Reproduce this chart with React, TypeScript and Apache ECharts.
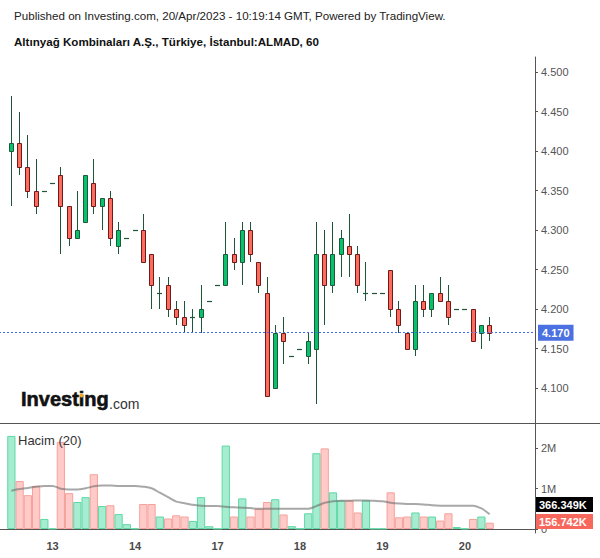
import React, { useEffect, useRef } from 'react';
import * as echarts from 'echarts';

const days = ['12', '13', '14', '17', '18', '19', '20'];
const fullSession = ['09:00', '10:00', '11:00', '12:00', '13:00', '14:00', '15:00', '16:00', '17:00', '18:00'];
const dayHours = [
  ['14:00', '15:00', '16:00', '17:00', '18:00'],
  fullSession,
  fullSession,
  fullSession,
  fullSession,
  fullSession,
  ['09:00', '10:00', '11:00', '12:00'],
];

const opens = [
  4.40, 4.41, 4.38, 4.35, 4.35, 4.36, 4.37, 4.33, 4.29, 4.31,
  4.36, 4.33, 4.34, 4.28, 4.29, 4.30, 4.30, 4.27, 4.22, 4.23,
  4.20, 4.19, 4.19, 4.19, 4.21, 4.23, 4.23, 4.27, 4.26, 4.30,
  4.26, 4.22, 4.10, 4.17, 4.14, 4.15, 4.14, 4.15, 4.27, 4.23,
  4.27, 4.28, 4.27, 4.22, 4.22, 4.22, 4.25, 4.20, 4.17, 4.15,
  4.21, 4.20, 4.22, 4.21, 4.20, 4.20, 4.20, 4.17, 4.18,
];
const closes = [
  4.41, 4.38, 4.35, 4.33, 4.35, 4.36, 4.33, 4.29, 4.30, 4.37,
  4.33, 4.34, 4.29, 4.30, 4.29, 4.30, 4.26, 4.23, 4.22, 4.20,
  4.19, 4.18, 4.19, 4.20, 4.21, 4.23, 4.27, 4.26, 4.30, 4.27,
  4.23, 4.09, 4.17, 4.16, 4.14, 4.15, 4.16, 4.27, 4.23, 4.27,
  4.29, 4.27, 4.23, 4.22, 4.22, 4.22, 4.20, 4.18, 4.15, 4.21,
  4.20, 4.22, 4.21, 4.19, 4.20, 4.20, 4.16, 4.18, 4.17,
];
const lows = [
  4.33, 4.37, 4.34, 4.32, 4.35, 4.36, 4.27, 4.28, 4.29, 4.31,
  4.32, 4.30, 4.28, 4.27, 4.29, 4.30, 4.26, 4.20, 4.20, 4.19,
  4.18, 4.17, 4.17, 4.17, 4.21, 4.23, 4.23, 4.25, 4.23, 4.26,
  4.22, 4.09, 4.10, 4.13, 4.14, 4.15, 4.13, 4.08, 4.18, 4.22,
  4.24, 4.24, 4.22, 4.21, 4.22, 4.22, 4.19, 4.17, 4.15, 4.14,
  4.19, 4.19, 4.21, 4.18, 4.20, 4.20, 4.16, 4.15, 4.16,
];
const highs = [
  4.47, 4.45, 4.42, 4.39, 4.35, 4.36, 4.38, 4.33, 4.35, 4.37,
  4.39, 4.34, 4.35, 4.31, 4.29, 4.30, 4.32, 4.27, 4.24, 4.24,
  4.21, 4.21, 4.20, 4.23, 4.21, 4.23, 4.31, 4.29, 4.31, 4.31,
  4.26, 4.24, 4.18, 4.19, 4.14, 4.15, 4.17, 4.31, 4.30, 4.31,
  4.30, 4.32, 4.28, 4.26, 4.22, 4.22, 4.25, 4.21, 4.17, 4.23,
  4.23, 4.22, 4.24, 4.23, 4.20, 4.20, 4.20, 4.18, 4.19,
];
// volume in millions of shares
const volumesM = [
  2.31, 1.19, 0.84, 1.07, 0.25, 0.01, 2.16, 0.89, 0.67, 0.79,
  1.36, 0.57, 0.59, 0.37, 0.12, 0.01, 0.62, 0.62, 0.31, 0.26,
  0.34, 0.31, 0.20, 0.79, 0.07, 0.01, 2.07, 0.31, 0.76, 0.31,
  0.50, 0.67, 0.74, 0.36, 0.07, 0.01, 0.39, 1.88, 2.00, 0.91,
  0.71, 0.71, 0.41, 0.71, 0.01, 0.01, 0.91, 0.29, 0.31, 0.41,
  0.31, 0.31, 0.21, 0.39, 0.05, 0.01, 0.25, 0.31, 0.156742,
];
// 20-period volume average as drawn (millions)
const volumeMA = [
  0.95, 0.99, 1.02, 1.05, 1.07, 1.07, 1.00, 0.98, 0.98, 1.01,
  1.06, 1.08, 1.08, 1.07, 1.07, 1.07, 1.05, 1.01, 0.90, 0.79,
  0.68, 0.64, 0.60, 0.58, 0.57, 0.57, 0.55, 0.54, 0.53, 0.52,
  0.50, 0.50, 0.50, 0.50, 0.50, 0.50, 0.50, 0.57, 0.65, 0.69,
  0.70, 0.70, 0.71, 0.71, 0.70, 0.69, 0.65, 0.63, 0.62, 0.62,
  0.61, 0.59, 0.58, 0.58, 0.58, 0.58, 0.58, 0.51, 0.366349,
];
const priceTicks = [4.1, 4.15, 4.2, 4.25, 4.3, 4.35, 4.4, 4.45, 4.5];
const volumeTicks = [0, 1, 2];

const titleLine1 = 'Published on Investing.com, 20/Apr/2023 - 10:19:14 GMT, Powered by TradingView.';
const titleLine2 = 'Altınyağ Kombinaları A.Ş., Türkiye, İstanbul:ALMAD, 60';
const volumeLabel = 'Hacim (20)';

const FONT = '"Liberation Sans", Arial, sans-serif';

export default function App() {
  const ref = useRef<HTMLDivElement>(null);

  useEffect(() => {
    const chart = echarts.init(ref.current as HTMLDivElement, null, { renderer: 'svg' });

    const categories: string[] = ['pad-start'];
    const dayStarts = new Set<string>();
    days.forEach((d, di) => {
      dayHours[di].forEach((h, hi) => {
        const key = d + ' ' + h;
        if (hi === 0 && di > 0) dayStarts.add(key);
        categories.push(key);
      });
    });
    for (let k = 1; k <= 5; k++) categories.push('pad-end-' + k);

    const candleData = opens.map((o, i) => [i + 1, o, closes[i], lows[i], highs[i]]);
    const lastPrice = closes[closes.length - 1];

    const upFill = '#07c16c';
    const upBorder = '#1d5a39';
    const downFill = '#fd6a5e';
    const downBorder = '#6e1b17';
    const wick = '#1f5538';

    const volData = volumesM.map((v, i) => {
      const up = closes[i] >= opens[i];
      return {
        value: [i + 1, v],
        itemStyle: {
          color: up ? '#a6ecd0' : '#ffcac7',
          borderColor: up ? '#5ed8a5' : '#f5a29c',
          borderWidth: 1,
        },
      };
    });
    const maData = volumeMA.map((v, i) => [i + 1, v]);

    const axisGray = '#555555';

    const option: any = {
      animation: false,
      backgroundColor: '#ffffff',
      textStyle: { fontFamily: FONT },
      grid: [
        { left: -1, width: 536, top: 57, height: 366, outerBoundsMode: 'none', containLabel: false },
        { left: -1, width: 536, top: 423, height: 110, outerBoundsMode: 'none', containLabel: false },
      ],
      xAxis: [
        {
          type: 'category',
          gridIndex: 0,
          data: categories,
          boundaryGap: true,
          axisLine: { show: false },
          axisTick: { show: false },
          axisLabel: { show: false },
          splitLine: { show: false },
        },
        {
          type: 'category',
          gridIndex: 1,
          data: categories,
          boundaryGap: true,
          axisLine: { show: true, lineStyle: { color: axisGray, width: 1 } },
          axisTick: { show: false },
          axisLabel: {
            show: true,
            interval: (_idx: number, value: string) => dayStarts.has(value),
            formatter: (value: string) => value.split(' ')[0],
            color: '#4a4a4a',
            fontSize: 11,
            fontWeight: 'bold',
            margin: 7,
          },
          splitLine: { show: false },
        },
      ],
      yAxis: [
        {
          type: 'value',
          gridIndex: 0,
          position: 'right',
          min: 4.0557,
          max: 4.519,
          axisLine: { show: true, lineStyle: { color: axisGray, width: 1 } },
          axisTick: { show: true, length: 3, customValues: priceTicks, lineStyle: { color: axisGray } },
          axisLabel: {
            customValues: priceTicks,
            formatter: (v: number) => v.toFixed(3),
            color: '#555555',
            fontSize: 11,
            margin: 6,
          },
          splitLine: { show: false },
        },
        {
          type: 'value',
          gridIndex: 1,
          position: 'right',
          min: -0.099,
          max: 2.63,
          axisLine: { show: true, lineStyle: { color: axisGray, width: 1 } },
          axisTick: { show: true, length: 3, customValues: volumeTicks, lineStyle: { color: axisGray } },
          axisLabel: {
            customValues: volumeTicks,
            formatter: (v: number) => (v === 0 ? '0' : v + 'M'),
            color: '#555555',
            fontSize: 11,
            margin: 6,
          },
          splitLine: { show: false },
        },
      ],
      series: [
        {
          type: 'custom',
          name: 'ALMAD',
          xAxisIndex: 0,
          yAxisIndex: 0,
          data: candleData,
          encode: { x: 0, y: [1, 2, 3, 4] },
          clip: false,
          renderItem: (_params: any, api: any) => {
            const xi = api.value(0);
            const o = api.value(1);
            const c = api.value(2);
            const lo = api.value(3);
            const hi = api.value(4);
            const po = api.coord([xi, o]);
            const pc = api.coord([xi, c]);
            const pl = api.coord([xi, lo]);
            const ph = api.coord([xi, hi]);
            const xc = Math.floor(po[0]) + 0.5;
            const up = c >= o;
            const children: any[] = [];
            if (hi > lo) {
              children.push({
                type: 'line',
                shape: { x1: xc, y1: Math.round(ph[1]), x2: xc, y2: Math.round(pl[1]) },
                style: { stroke: wick, lineWidth: 1 },
              });
            }
            const top = Math.round(Math.min(po[1], pc[1])) + 0.5;
            const bot = Math.round(Math.max(po[1], pc[1])) + 0.5;
            if (bot - top < 1) {
              children.push({
                type: 'line',
                shape: { x1: xc - 2.5, y1: top, x2: xc + 2.5, y2: top },
                style: { stroke: wick, lineWidth: 1.2 },
              });
            } else {
              children.push({
                type: 'rect',
                shape: { x: xc - 2, y: top, width: 4, height: bot - top },
                style: {
                  fill: up ? upFill : downFill,
                  stroke: up ? upBorder : downBorder,
                  lineWidth: 1,
                },
              });
            }
            return { type: 'group', children };
          },
          markLine: {
            silent: true,
            symbol: 'none',
            data: [{ yAxis: lastPrice }],
            lineStyle: { color: '#3f6ef0', type: [2, 2], width: 1 },
            label: {
              show: true,
              position: 'end',
              distance: 3,
              formatter: (p: any) => Number(p.value).toFixed(3),
              backgroundColor: '#4b70e2',
              color: '#ffffff',
              fontWeight: 'bold',
              fontSize: 11,
              fontFamily: FONT,
              padding: [2, 4, 2, 4],
              lineHeight: 12,
            },
          },
          z: 3,
        },
        {
          type: 'bar',
          name: 'Hacim',
          xAxisIndex: 1,
          yAxisIndex: 1,
          data: volData,
          barWidth: '100%',
          barCategoryGap: '0%',
          z: 2,
        },
        {
          type: 'line',
          name: 'MA20',
          xAxisIndex: 1,
          yAxisIndex: 1,
          data: maData,
          showSymbol: false,
          smooth: 0.3,
          lineStyle: { color: 'rgba(110,110,110,0.6)', width: 2 },
          z: 4,
        },
      ],
      graphic: [
        {
          type: 'text',
          left: 14,
          top: 9,
          style: { text: titleLine1, font: '11.6px ' + FONT, fill: '#222222' },
        },
        {
          type: 'text',
          left: 14,
          top: 35,
          style: { text: titleLine2, font: 'bold 11.6px ' + FONT, fill: '#111111' },
        },
        {
          type: 'line',
          shape: { x1: 0, y1: 423.5, x2: 600, y2: 423.5 },
          style: { stroke: axisGray, lineWidth: 1 },
          z: 10,
        },
        {
          type: 'text',
          x: 21,
          y: 409,
          style: {
            text: 'Investing',
            font: 'bold 20px ' + FONT,
            fill: '#111111',
            stroke: '#111111',
            lineWidth: 0.6,
            verticalAlign: 'bottom',
          },
          z: 10,
        },
        {
          type: 'circle',
          shape: { cx: 81.6, cy: 395.5, r: 2 },
          style: { fill: '#f5a623' },
          z: 11,
        },
        {
          type: 'text',
          x: 109,
          y: 411,
          style: {
            text: '.com',
            font: '14px ' + FONT,
            fill: '#333333',
            verticalAlign: 'bottom',
          },
          z: 10,
        },
        {
          type: 'text',
          x: 18,
          y: 440,
          style: {
            text: volumeLabel,
            font: '13px ' + FONT,
            fill: '#333333',
            verticalAlign: 'middle',
          },
          z: 10,
        },
        {
          type: 'rect',
          shape: { x: 536, y: 497, width: 57, height: 15 },
          style: { fill: '#000000' },
          z: 10,
        },
        {
          type: 'text',
          x: 539,
          y: 504.5,
          style: {
            text: (volumeMA[volumeMA.length - 1] * 1000).toFixed(3) + 'K',
            font: 'bold 11px ' + FONT,
            fill: '#ffffff',
            verticalAlign: 'middle',
          },
          z: 11,
        },
        {
          type: 'rect',
          shape: { x: 536, y: 514, width: 57, height: 15 },
          style: { fill: '#f8675c' },
          z: 10,
        },
        {
          type: 'text',
          x: 539,
          y: 521.5,
          style: {
            text: (volumesM[volumesM.length - 1] * 1000).toFixed(3) + 'K',
            font: 'bold 11px ' + FONT,
            fill: '#ffffff',
            verticalAlign: 'middle',
          },
          z: 11,
        },
      ],
    };

    chart.setOption(option);
    return () => chart.dispose();
  }, []);

  return (
    <div
      ref={ref}
      style={{ position: 'fixed', left: 0, top: 0, width: 600, height: 558, background: '#ffffff' }}
    />
  );
}
